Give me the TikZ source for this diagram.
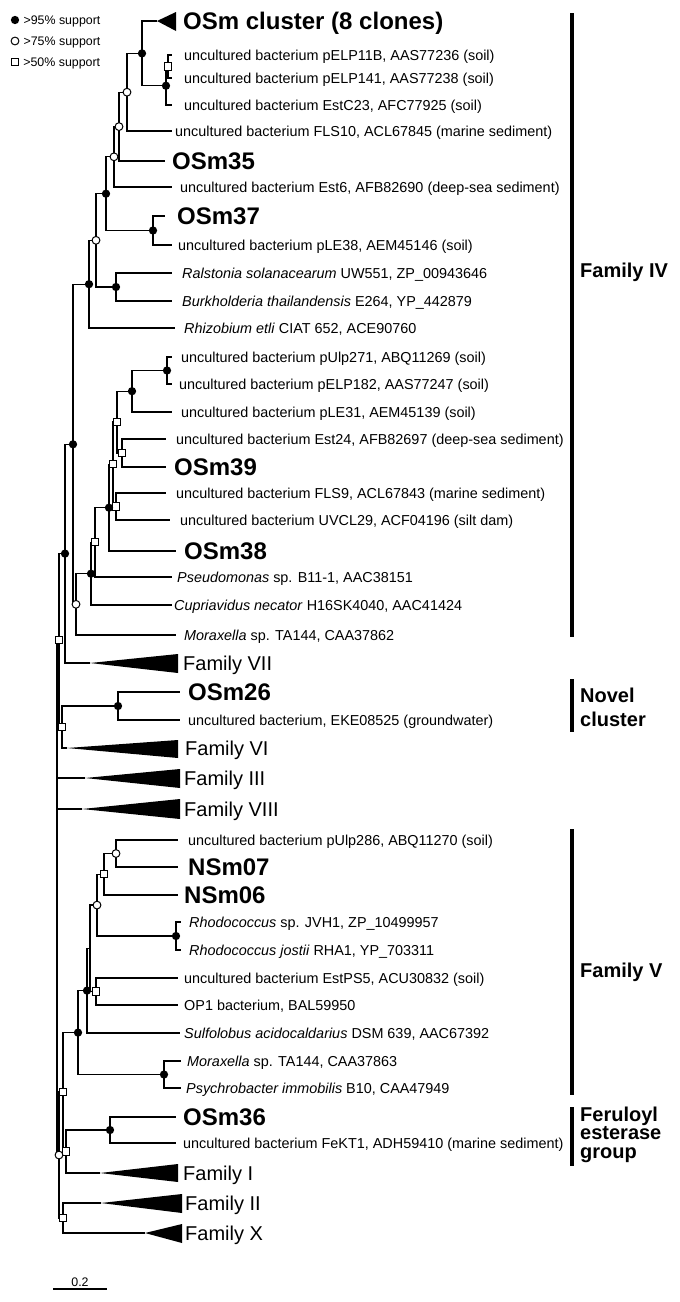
\documentclass[tikz,border=0pt]{standalone}
\usepackage{fontspec}
\setmainfont{Liberation Sans}
\usetikzlibrary{positioning}

\begin{document}
\begin{tikzpicture}[
  x=1pt, y=-1pt,
  branch/.style={line width=1.3pt},
  b95/.style={circle, fill=black, inner sep=0pt, minimum size=8.3pt},
  b75/.style={circle, draw=black, fill=white, line width=1pt, inner sep=0pt, minimum size=7.8pt},
  b50/.style={rectangle, draw=black, fill=white, line width=1pt, inner sep=0pt, minimum size=7.3pt},
  leaf/.style={anchor=west, inner sep=0pt, font=\fontsize{14.4}{17}\selectfont, text height=10.3pt, text depth=0pt},
  clone/.style={anchor=west, inner sep=0pt, font=\fontsize{24}{28}\selectfont\bfseries, text height=17.2pt, text depth=0pt},
  family/.style={anchor=west, inner sep=0pt, font=\fontsize{20}{24}\selectfont, text height=14.3pt, text depth=0pt},
  group/.style={anchor=west, inner sep=0pt, font=\fontsize{20}{24}\selectfont\bfseries, align=left},
  key/.style={inner sep=0pt, font=\fontsize{12.4}{15}\selectfont, text height=8.9pt, text depth=0pt},
  wedge/.style={fill=black},
  bar/.style={line width=3.3pt}
]
\useasboundingbox (0,0) rectangle (680,1302);

\node[b95] (k95) at (15,20) {};
\node[key, right=4pt of k95] (t95) {>95\% support};
\node[b75] (k75) at (15,41) {};
\node[key, right=4pt of k75] (t75) {>75\% support};
\node[b50] (k50) at (15,62) {};
\node[key, right=4pt of k50] (t50) {>50\% support};

\path (157,21) coordinate (tOSmc) (183,21) node[clone] (lOSmc) {OSm cluster (8 clones)};
\fill[wedge] (tOSmc) -- (176,12) -- (176,31) -- cycle;
\path (172,55) coordinate (tELP11B) (184,55) node[leaf] (lELP11B) {uncultured bacterium pELP11B, AAS77236 (soil)};
\path (172,78) coordinate (tELP141) (184,78) node[leaf] (lELP141) {uncultured bacterium pELP141, AAS77238 (soil)};
\path (172,105) coordinate (tEstC23) (184,105) node[leaf] (lEstC23) {uncultured bacterium EstC23, AFC77925 (soil)};
\path (172,131) coordinate (tFLS10) (175,131) node[leaf] (lFLS10) {uncultured bacterium FLS10, ACL67845 (marine sediment)};
\path (165,161) coordinate (tOSm35) (172,161) node[clone] (lOSm35) {OSm35};
\path (172,187) coordinate (tEst6) (180,187) node[leaf] (lEst6) {uncultured bacterium Est6, AFB82690 (deep-sea sediment)};
\path (165,216) coordinate (tOSm37) (177,216) node[clone] (lOSm37) {OSm37};
\path (172,245) coordinate (tpLE38) (178,245) node[leaf] (lpLE38) {uncultured bacterium pLE38, AEM45146 (soil)};
\path (172,273) coordinate (tRals) (182,273) node[leaf] (lRals) {\textit{Ralstonia solanacearum} UW551, ZP\_00943646};
\path (172,301) coordinate (tBurk) (182,301) node[leaf] (lBurk) {\textit{Burkholderia thailandensis} E264, YP\_442879};
\path (175,328) coordinate (tRhiz) (184,328) node[leaf] (lRhiz) {\textit{Rhizobium etli} CIAT 652, ACE90760};
\path (172,357) coordinate (tUlp271) (181,357) node[leaf] (lUlp271) {uncultured bacterium pUlp271, ABQ11269 (soil)};
\path (172,384) coordinate (tELP182) (179,384) node[leaf] (lELP182) {uncultured bacterium pELP182, AAS77247 (soil)};
\path (172,412) coordinate (tpLE31) (181,412) node[leaf] (lpLE31) {uncultured bacterium pLE31, AEM45139 (soil)};
\path (166,439) coordinate (tEst24) (176,439) node[leaf] (lEst24) {uncultured bacterium Est24, AFB82697 (deep-sea sediment)};
\path (166,467) coordinate (tOSm39) (174,467) node[clone] (lOSm39) {OSm39};
\path (166,493) coordinate (tFLS9) (176,493) node[leaf] (lFLS9) {uncultured bacterium FLS9, ACL67843 (marine sediment)};
\path (170,520) coordinate (tUVCL29) (180,520) node[leaf] (lUVCL29) {uncultured bacterium UVCL29, ACF04196 (silt dam)};
\path (176,551) coordinate (tOSm38) (184,551) node[clone] (lOSm38) {OSm38};
\path (172,577) coordinate (tPseu) (177,577) node[leaf] (lPseu) {\textit{Pseudomonas} sp. B11-1, AAC38151};
\path (172,605) coordinate (tCupr) (174,605) node[leaf] (lCupr) {\textit{Cupriavidus necator} H16SK4040, AAC41424};
\path (176,635) coordinate (tMoraxA) (184,635) node[leaf] (lMoraxA) {\textit{Moraxella} sp. TA144, CAA37862};

\path (90,663) coordinate (tFamVII) (183,663) node[family] (lFamVII) {Family VII};
\fill[wedge] (tFamVII) -- (178,654) -- (178,673) -- cycle;
\path (180,692) coordinate (tOSm26) (188,692) node[clone] (lOSm26) {OSm26};
\path (180,720) coordinate (tEKE) (188,720) node[leaf] (lEKE) {uncultured bacterium, EKE08525 (groundwater)};
\path (67,748) coordinate (tFamVI) (185,748) node[family] (lFamVI) {Family VI};
\fill[wedge] (tFamVI) -- (178,740) -- (178,758) -- cycle;
\path (85,778) coordinate (tFamIII) (184,778) node[family] (lFamIII) {Family III};
\fill[wedge] (tFamIII) -- (180,769) -- (180,788) -- cycle;
\path (82,809) coordinate (tFamVIII) (184,809) node[family] (lFamVIII) {Family VIII};
\fill[wedge] (tFamVIII) -- (180,799) -- (180,819) -- cycle;

\path (178,840) coordinate (tUlp286) (188,840) node[leaf] (lUlp286) {uncultured bacterium pUlp286, ABQ11270 (soil)};
\path (178,867) coordinate (tNSm07) (188,867) node[clone] (lNSm07) {NSm07};
\path (178,895) coordinate (tNSm06) (184,895) node[clone] (lNSm06) {NSm06};
\path (181,922) coordinate (tRhoA) (189,922) node[leaf] (lRhoA) {\textit{Rhodococcus} sp. JVH1, ZP\_10499957};
\path (181,950) coordinate (tRhoB) (189,950) node[leaf] (lRhoB) {\textit{Rhodococcus jostii} RHA1, YP\_703311};
\path (178,978) coordinate (tEstPS5) (184,978) node[leaf] (lEstPS5) {uncultured bacterium EstPS5, ACU30832 (soil)};
\path (178,1005) coordinate (tOP1) (184,1005) node[leaf] (lOP1) {OP1 bacterium, BAL59950};
\path (180,1033) coordinate (tSulf) (184,1033) node[leaf] (lSulf) {\textit{Sulfolobus acidocaldarius} DSM 639, AAC67392};
\path (181,1061) coordinate (tMoraxB) (187,1061) node[leaf] (lMoraxB) {\textit{Moraxella} sp. TA144, CAA37863};
\path (181,1088) coordinate (tPsy) (186,1088) node[leaf] (lPsy) {\textit{Psychrobacter immobilis} B10, CAA47949};
\path (176,1117) coordinate (tOSm36) (183,1117) node[clone] (lOSm36) {OSm36};
\path (176,1143) coordinate (tFeKT1) (183,1143) node[leaf] (lFeKT1) {uncultured bacterium FeKT1, ADH59410 (marine sediment)};
\path (100,1173) coordinate (tFamI) (183,1173) node[family] (lFamI) {Family I};
\fill[wedge] (tFamI) -- (178,1164) -- (178,1182) -- cycle;
\path (101,1203) coordinate (tFamII) (185,1203) node[family] (lFamII) {Family II};
\fill[wedge] (tFamII) -- (182,1194) -- (182,1213) -- cycle;
\path (145,1233) coordinate (tFamX) (185,1233) node[family] (lFamX) {Family X};
\fill[wedge] (tFamX) -- (182,1224) -- (182,1243) -- cycle;

\coordinate (nA1) at (168,66.5);
\coordinate (nA2) at (166,85.75);
\coordinate (nA) at (142,53.4);
\coordinate (nB) at (127,92.2);
\coordinate (nC) at (119,126.6);
\coordinate (nD) at (114,156.8);
\coordinate (nF) at (153,230.5);
\coordinate (nE) at (106,193.7);
\coordinate (nH) at (116,287);
\coordinate (nG) at (96,240.3);
\coordinate (nI) at (89,284.2);
\coordinate (nK) at (167,370.5);
\coordinate (nL) at (132,391.2);
\coordinate (nN) at (122,453);
\coordinate (nM) at (117,422.1);
\coordinate (nP) at (116,506.5);
\coordinate (nO) at (113,464.3);
\coordinate (nQ) at (109,507.7);
\coordinate (nR) at (95,542.3);
\coordinate (nS) at (91,573.7);
\coordinate (nT) at (76,604.3);
\coordinate (nJ) at (73,444.3);
\coordinate (nU) at (65,553.6);
\coordinate (nW1) at (118,706);
\coordinate (nW) at (62,727);
\coordinate (nV) at (59,640.3);
\coordinate (nX6) at (116,853.5);
\coordinate (nX5) at (104,874.2);
\coordinate (nX7) at (176,936);
\coordinate (nX4) at (97,905.1);
\coordinate (nX8) at (96,991.5);
\coordinate (nX1) at (90,948.3);
\coordinate (nX2) at (87,990.6);
\coordinate (nX9) at (164,1074.5);
\coordinate (nX3) at (78,1032.6);
\coordinate (nY4) at (110,1130);
\coordinate (nY2) at (66,1151.5);
\coordinate (nY1) at (63,1092);
\coordinate (nY3) at (63,1218);
\coordinate (nZ) at (59,1155);
\coordinate (root) at (57,897);

\draw[branch] (nA1) |- (tELP11B) (nA1) |- (tELP141);
\draw[branch] (nA2) |- (nA1) (nA2) |- (tEstC23);
\draw[branch] (nA) |- (tOSmc) (nA) |- (nA2);
\draw[branch] (nB) |- (nA) (nB) |- (tFLS10);
\draw[branch] (nC) |- (nB) (nC) |- (tOSm35);
\draw[branch] (nD) |- (nC) (nD) |- (tEst6);
\draw[branch] (nF) |- (tOSm37) (nF) |- (tpLE38);
\draw[branch] (nE) |- (nD) (nE) |- (nF);
\draw[branch] (nH) |- (tRals) (nH) |- (tBurk);
\draw[branch] (nG) |- (nE) (nG) |- (nH);
\draw[branch] (nI) |- (nG) (nI) |- (tRhiz);
\draw[branch] (nK) |- (tUlp271) (nK) |- (tELP182);
\draw[branch] (nL) |- (nK) (nL) |- (tpLE31);
\draw[branch] (nN) |- (tEst24) (nN) |- (tOSm39);
\draw[branch] (nM) |- (nL) (nM) |- (nN);
\draw[branch] (nP) |- (tFLS9) (nP) |- (tUVCL29);
\draw[branch] (nO) |- (nM) (nO) |- (nP);
\draw[branch] (nQ) |- (nO) (nQ) |- (tOSm38);
\draw[branch] (nR) |- (nQ) (nR) |- (tPseu);
\draw[branch] (nS) |- (nR) (nS) |- (tCupr);
\draw[branch] (nT) |- (nS) (nT) |- (tMoraxA);
\draw[branch] (nJ) |- (nI) (nJ) |- (nT);
\draw[branch] (nU) |- (nJ) (nU) |- (tFamVII);
\draw[branch] (nW1) |- (tOSm26) (nW1) |- (tEKE);
\draw[branch] (nW) |- (nW1) (nW) |- (tFamVI);
\draw[branch] (nV) |- (nU) (nV) |- (nW);
\draw[branch] (nX6) |- (tUlp286) (nX6) |- (tNSm07);
\draw[branch] (nX5) |- (nX6) (nX5) |- (tNSm06);
\draw[branch] (nX7) |- (tRhoA) (nX7) |- (tRhoB);
\draw[branch] (nX4) |- (nX5) (nX4) |- (nX7);
\draw[branch] (nX8) |- (tEstPS5) (nX8) |- (tOP1);
\draw[branch] (nX1) |- (nX4) (nX1) |- (nX8);
\draw[branch] (nX2) |- (nX1) (nX2) |- (tSulf);
\draw[branch] (nX9) |- (tMoraxB) (nX9) |- (tPsy);
\draw[branch] (nX3) |- (nX2) (nX3) |- (nX9);
\draw[branch] (nY4) |- (tOSm36) (nY4) |- (tFeKT1);
\draw[branch] (nY2) |- (nY4) (nY2) |- (tFamI);
\draw[branch] (nY1) |- (nX3) (nY1) |- (nY2);
\draw[branch] (nY3) |- (tFamII) (nY3) |- (tFamX);
\draw[branch] (nZ) |- (nY1) (nZ) |- (nY3);
\draw[branch] (root) |- (nV) (root) |- (tFamIII) (root) |- (tFamVIII) (root) |- (nZ);

\node[b50] (sA1) at (nA1) {};
\node[b95] (sA2) at (nA2) {};
\node[b95] (sA) at (nA) {};
\node[b75] (sB) at (nB) {};
\node[b75] (sC) at (nC) {};
\node[b75] (sD) at (nD) {};
\node[b95] (sF) at (nF) {};
\node[b95] (sE) at (nE) {};
\node[b95] (sH) at (nH) {};
\node[b75] (sG) at (nG) {};
\node[b95] (sI) at (nI) {};
\node[b95] (sK) at (nK) {};
\node[b95] (sL) at (nL) {};
\node[b50] (sN) at (nN) {};
\node[b50] (sM) at (nM) {};
\node[b50] (sP) at (nP) {};
\node[b50] (sO) at (nO) {};
\node[b95] (sQ) at (nQ) {};
\node[b50] (sR) at (nR) {};
\node[b95] (sS) at (nS) {};
\node[b75] (sT) at (nT) {};
\node[b95] (sJ) at (nJ) {};
\node[b95] (sU) at (nU) {};
\node[b95] (sW1) at (nW1) {};
\node[b50] (sW) at (nW) {};
\node[b50] (sV) at (nV) {};
\node[b75] (sX6) at (nX6) {};
\node[b50] (sX5) at (nX5) {};
\node[b95] (sX7) at (nX7) {};
\node[b75] (sX4) at (nX4) {};
\node[b50] (sX8) at (nX8) {};
\node[b95] (sX2) at (nX2) {};
\node[b95] (sX9) at (nX9) {};
\node[b95] (sX3) at (nX3) {};
\node[b95] (sY4) at (nY4) {};
\node[b50] (sY2) at (nY2) {};
\node[b50] (sY1) at (nY1) {};
\node[b50] (sY3) at (nY3) {};
\node[b75] (sZ) at (nZ) {};

\draw[bar] (572,13) -- (572,637);
\node[group] (gIV) at (580,272) {Family IV};
\draw[bar] (572,679) -- (572,732);
\node[group] (gNovel) at (580,707) {Novel\\cluster};
\draw[bar] (572,829) -- (572,1095);
\node[group] (gV) at (580,972) {Family V};
\draw[bar] (572,1107) -- (572,1166);
\node[group, font=\fontsize{20}{18.5}\selectfont\bfseries] (gFer) at (580,1134.5) {Feruloyl\\esterase\\group};

\coordinate (s0) at (53,1289);
\coordinate (s1) at (107,1289);
\draw[branch] (s0) -- node[key, above=2pt] (scale) {0.2} (s1);

\end{tikzpicture}
\end{document}
